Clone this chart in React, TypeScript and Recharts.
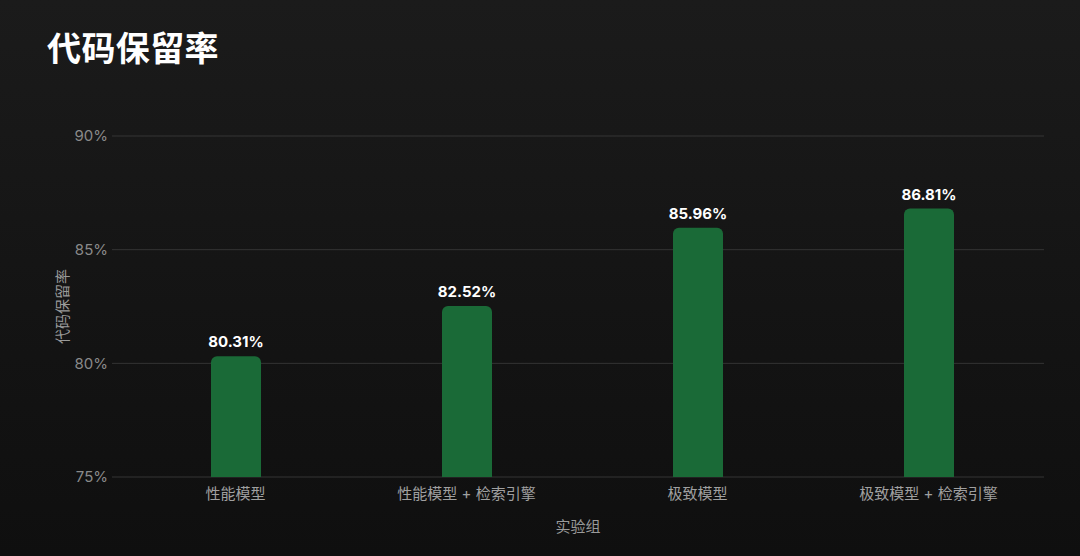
import React from 'react';
import { BarChart, Bar, XAxis, YAxis, CartesianGrid, LabelList } from 'recharts';

const categories = ['性能模型', '性能模型 + 检索引擎', '极致模型', '极致模型 + 检索引擎'];
const retention = [80.31, 82.52, 85.96, 86.81];
const yTicks = [75, 80, 85, 90];

const data = categories.map((name, i) => ({ name, value: retention[i] }));

const FONT = "Inter, 'Noto Sans CJK SC', sans-serif";

export default function App() {
  return (
    <div
      style={{
        position: 'fixed',
        left: 0,
        top: 0,
        width: 1080,
        height: 556,
        background: 'linear-gradient(180deg, #1b1b1b 0%, #141414 55%, #0f0f0f 100%)',
        fontFamily: FONT,
        overflow: 'hidden',
      }}
    >
      <div
        style={{
          position: 'absolute',
          left: 47,
          top: 24,
          color: '#ffffff',
          fontSize: 34,
          fontWeight: 700,
          fontFamily: "'Noto Sans CJK SC', sans-serif",
          lineHeight: '46px',
          letterSpacing: 0.4,
        }}
      >
        代码保留率
      </div>
      <BarChart
        width={1080}
        height={556}
        data={data}
        margin={{ top: 136, right: 36, bottom: 0, left: 0 }}
        style={{ position: 'absolute', left: 0, top: 0 }}
      >
        <CartesianGrid horizontal vertical={false} stroke="#343434" strokeWidth={1} />
        <XAxis
          dataKey="name"
          height={79}
          padding={{ left: 8, right: 0 }}
          axisLine={false}
          tickLine={false}
          tickSize={0}
          tickMargin={11}
          tick={{ fill: '#a0a0a0', fontSize: 15, fontFamily: FONT }}
          interval={0}
          label={{
            value: '实验组',
            position: 'insideBottom',
            offset: 24,
            fill: '#9a9a9a',
            fontSize: 15,
            fontFamily: FONT,
          }}
        />
        <YAxis
          width={112}
          domain={[75, 90]}
          ticks={yTicks}
          allowDataOverflow
          axisLine={false}
          tickLine={false}
          tickSize={0}
          tickMargin={4}
          tickFormatter={(v: number) => `${v}%`}
          tick={{ fill: '#8a8a8a', fontSize: 15, fontFamily: FONT }}
          label={(props: any) => {
            const vb = props.viewBox || { x: 0, y: 136, width: 112, height: 341 };
            const cx = 62;
            const cy = vb.y + vb.height / 2;
            return (
              <text
                x={cx}
                y={cy}
                transform={`rotate(-90, ${cx}, ${cy})`}
                textAnchor="middle"
                dominantBaseline="central"
                fill="#9a9a9a"
                fontSize={15}
                fontFamily={FONT}
              >
                代码保留率
              </text>
            );
          }}
        />
        <Bar dataKey="value" fill="#1a6a37" barSize={50} radius={[6, 6, 0, 0]} isAnimationActive={false}>
          <LabelList
            dataKey="value"
            position="top"
            offset={9}
            fill="#ffffff"
            fontSize={15}
            fontWeight={700}
            fontFamily={FONT}
            formatter={(v: any) => `${Number(v).toFixed(2)}%`}
          />
        </Bar>
      </BarChart>
    </div>
  );
}
